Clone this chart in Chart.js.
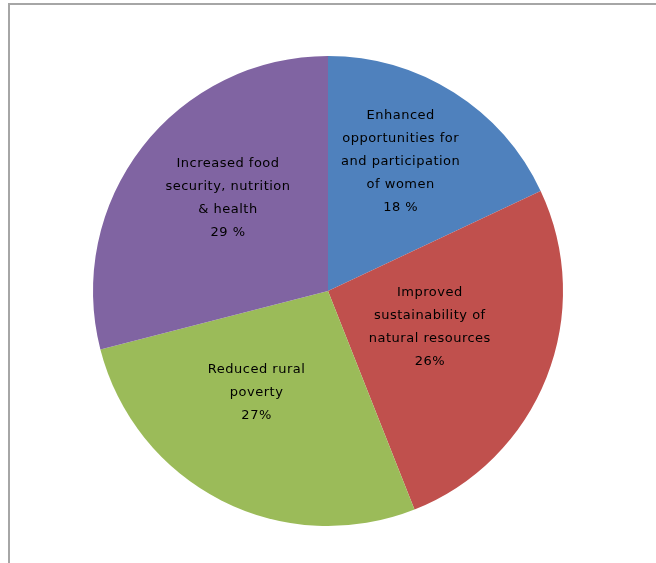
<!DOCTYPE html>
<html lang="en">
<head>
  <meta charset="UTF-8">
  <title>Pie chart</title>
  <script src="https://cdn.jsdelivr.net/npm/chart.js"></script>
  <style>
    html, body { margin: 0; padding: 0; background: #fff; }
    #wrap { width: 656px; height: 563px; }
  </style>
</head>
<body>
  <div id="wrap"><canvas id="pieChart" width="656" height="563"></canvas></div>
  <script>
    // data
    const categories = [
      ['Enhanced', 'opportunities for', 'and participation', 'of women'],
      ['Improved', 'sustainability of', 'natural resources'],
      ['Reduced rural', 'poverty'],
      ['Increased food', 'security, nutrition', '& health']
    ];
    const shares = [18, 26, 27, 29];
    const shareLabels = ['18 %', '26%', '27%', '29 %'];
    const colors = ['#4F81BD', '#C0504D', '#9BBB59', '#8064A2'];

    // where each label sits inside its slice (fraction of radius, angle tweak in degrees)
    const labelRadius = [0.63, 0.46, 0.53, 0.58];
    const labelTurn = [-3, -2, 8, 5];

    const frame = {
      id: 'frame',
      afterDraw(chart) {
        const c = chart.ctx;
        c.save();
        c.strokeStyle = '#a6a6a6';
        c.lineWidth = 2;
        c.beginPath();
        c.moveTo(9, 563);
        c.lineTo(9, 4);
        c.lineTo(656, 4);
        c.stroke();
        c.restore();
      }
    };

    const sliceLabels = {
      id: 'sliceLabels',
      afterDatasetsDraw(chart) {
        const c = chart.ctx;
        const arcs = chart.getDatasetMeta(0).data;
        c.save();
        c.font = '13px "DejaVu Sans"';
        c.letterSpacing = '0.5px';
        c.fillStyle = '#000';
        c.textAlign = 'center';
        c.textBaseline = 'middle';
        arcs.forEach((arc, i) => {
          const p = arc.getProps(['x', 'y', 'startAngle', 'endAngle', 'outerRadius'], true);
          const mid = (p.startAngle + p.endAngle) / 2 + labelTurn[i] * Math.PI / 180;
          const r = p.outerRadius * labelRadius[i];
          const cx = p.x + Math.cos(mid) * r;
          const cy = p.y + Math.sin(mid) * r;
          const lines = categories[i].concat([shareLabels[i]]);
          const lh = 23;
          const top = cy - (lines.length - 1) * lh / 2;
          lines.forEach((t, k) => c.fillText(t, cx, top + k * lh));
        });
        c.restore();
      }
    };

    new Chart(document.getElementById('pieChart'), {
      type: 'pie',
      data: {
        labels: categories.map(l => l.join(' ')),
        datasets: [{
          data: shares,
          backgroundColor: colors,
          borderWidth: 0
        }]
      },
      options: {
        responsive: false,
        animation: false,
        layout: { padding: { left: 93, right: 93, top: 56, bottom: 37 } },
        plugins: {
          legend: { display: false },
          tooltip: { enabled: false }
        }
      },
      plugins: [frame, sliceLabels]
    });
  </script>
</body>
</html>
